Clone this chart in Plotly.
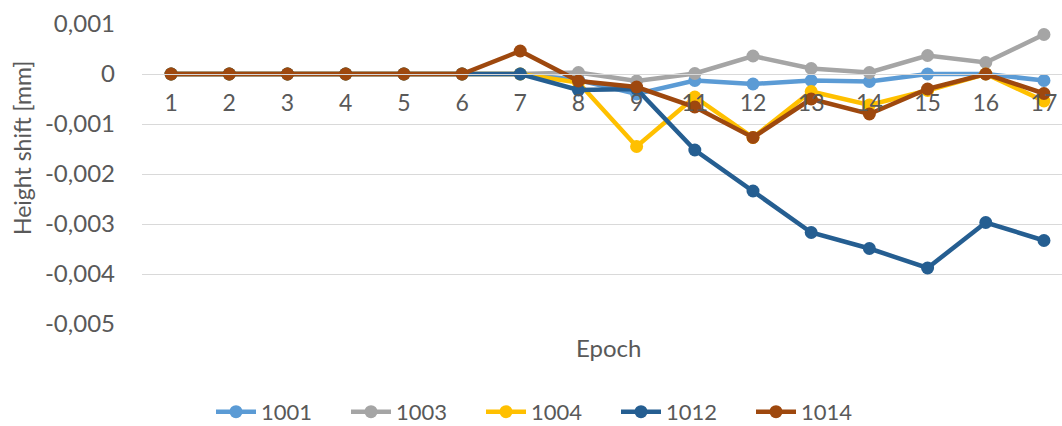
import plotly.graph_objects as go

epochs = ["1", "2", "3", "4", "5", "6", "7", "8", "9", "11", "12", "13", "14", "15", "16", "17"]

s1001 = [0, 0, 0, 0, 0, 0, 0, -0.00012, -0.00040, -0.00013, -0.00020, -0.00013, -0.00015, 0.0, 0.0, -0.00013]
s1003 = [0, 0, 0, 0, 0, 0, 0, 0.00003, -0.00014, 0.00001, 0.00036, 0.00011, 0.00003, 0.00037, 0.00023, 0.00079]
s1004 = [0, 0, 0, 0, 0, 0, 0, -0.00017, -0.00145, -0.00046, -0.00127, -0.00035, -0.00062, -0.00033, 0.0, -0.00054]
s1012 = [0, 0, 0, 0, 0, 0, 0, -0.00032, -0.00030, -0.00152, -0.00234, -0.00317, -0.00349, -0.00388, -0.00297, -0.00333]
s1014 = [0, 0, 0, 0, 0, 0, 0.00046, -0.00014, -0.00026, -0.00066, -0.00127, -0.00050, -0.00080, -0.00030, 0.0, -0.00039]

series_names = ["1001", "1003", "1004", "1012", "1014"]
series_values = [s1001, s1003, s1004, s1012, s1014]
colors = ["#5B9BD5", "#A5A5A5", "#FFC000", "#255E91", "#9E480E"]

y_tickvals = [0.001, 0, -0.001, -0.002, -0.003, -0.004, -0.005]
y_ticktext = ["0,001", "0", "-0,001", "-0,002", "-0,003", "-0,004", "-0,005"]

FONT = "Lato"
TXT = "#595959"

fig = go.Figure()
for name, vals, col in zip(series_names, series_values, colors):
    fig.add_trace(go.Scatter(
        x=epochs, y=vals, name=name, mode="lines+markers",
        line=dict(color=col, width=4.5),
        marker=dict(color=col, size=13),
    ))

fig.update_layout(
    width=1062, height=426,
    margin=dict(l=142, r=0, t=24, b=102, autoexpand=False),
    paper_bgcolor="white", plot_bgcolor="white",
    font=dict(family=FONT, size=22, color=TXT),
    showlegend=True,
    legend=dict(orientation="h", x=0.075, xanchor="left", y=-0.293, yanchor="middle",
                font=dict(size=22, color=TXT), entrywidth=80, entrywidthmode="pixels",
                itemwidth=40, tracegroupgap=0),
    xaxis=dict(type="category", range=[-0.5, 15.31], anchor="free", position=5/6,
               showgrid=False, showline=True, linecolor="#D9D9D9", linewidth=1,
               ticks="", ticklabelstandoff=8, zeroline=False, automargin=False,
               tickfont=dict(size=23, color=TXT)),
    yaxis=dict(range=[-0.005, 0.001], tickvals=y_tickvals, ticktext=y_ticktext,
               showgrid=True, gridcolor="#D9D9D9", gridwidth=1, zeroline=False,
               showline=False, ticks="", ticklabelstandoff=26, automargin=False,
               tickfont=dict(size=24, color=TXT)),
    annotations=[
        dict(text="Epoch", xref="paper", yref="paper", x=(608 - 142) / 920, y=(324 - 347) / 300,
             xanchor="center", yanchor="middle", showarrow=False, font=dict(size=24, color=TXT)),
        dict(text="Height shift [mm]", xref="paper", yref="paper", x=(22 - 142) / 920, y=(324 - 148) / 300,
             xanchor="center", yanchor="middle", textangle=-90, showarrow=False,
             font=dict(size=23, color=TXT)),
    ],
)

fig.write_html("out.html", config={"displayModeBar": False},
               post_script="document.body.style.margin='0';document.body.style.padding='0';document.body.style.overflow='hidden';")
